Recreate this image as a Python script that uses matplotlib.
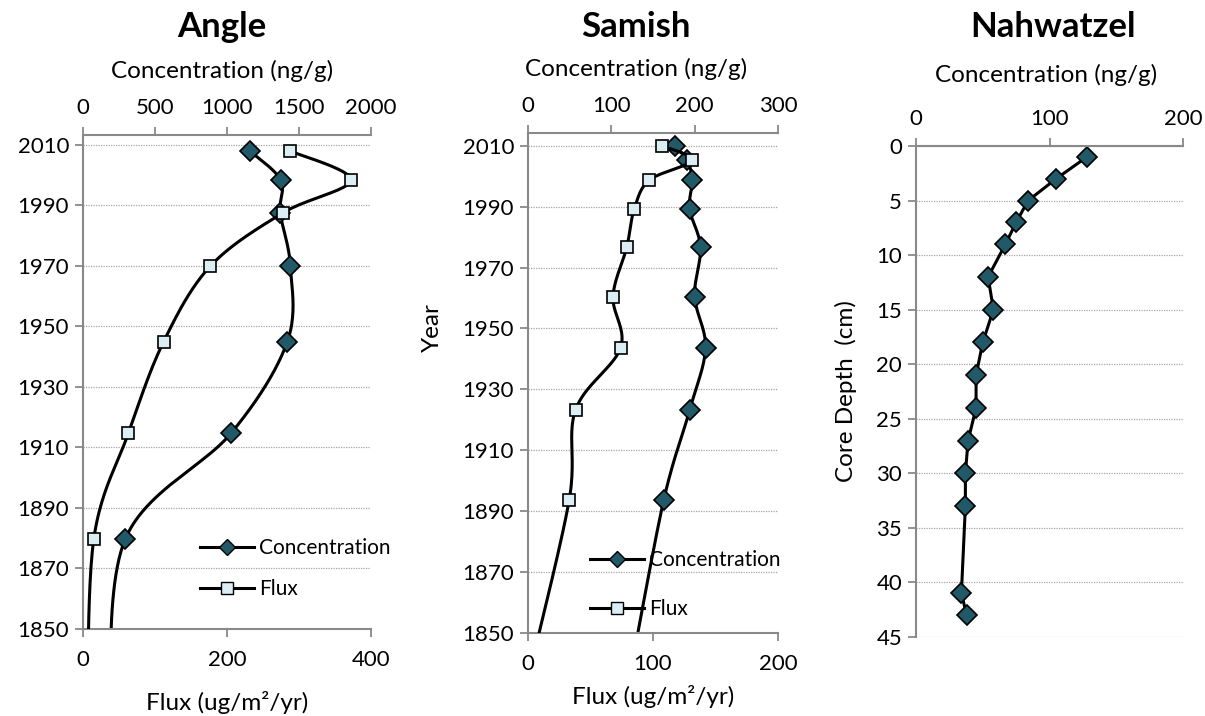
import numpy as np
import matplotlib
matplotlib.use("Agg")
import matplotlib.pyplot as plt
from matplotlib.lines import Line2D

plt.rcParams['font.family'] = ['Lato', 'DejaVu Sans']

# Angle core (year, concentration ng/g, flux ug/m2/yr) - last point lies below the axis
angle_year = [2008, 1998.4, 1987.6, 1970, 1945, 1914.7, 1879.8, 1820]
angle_conc = [1160, 1373, 1370, 1440, 1419, 1028, 294, 185]
angle_flux = [288, 372, 278, 177, 112, 63, 15, 6]

# Samish core - last point lies below the axis
samish_year = [2010, 2005.2, 1998.7, 1989.2, 1976.7, 1960.5, 1943.6, 1923.2, 1893.8, 1840]
samish_conc = [176, 191, 197, 194, 207, 200, 213, 194, 163, 125]
samish_flux = [107, 131, 97, 85, 79, 68, 74, 38, 33, 3]

# Nahwatzel core (depth cm, concentration ng/g)
nahw_depth = [1, 3, 5, 7, 9, 12, 15, 18, 21, 24, 27, 30, 33, 41, 43]
nahw_conc = [128, 105, 84, 75, 67, 54, 58, 50, 45, 45, 39, 37, 37, 34, 38]

year_ticks = list(range(1850, 2011, 20))

CONC_FC = '#215968'
FLUX_FC = '#DBEEF4'
GREY = '#898989'
W, H = 1205, 716
TICK_FS = 16


def smooth(xs, ys, sx, sy, n=25):
    # Excel-like smoothed line: Bezier through points, computed in pixel space
    P = np.column_stack([np.asarray(xs, float) * sx, np.asarray(ys, float) * sy])
    out = [P[0]]
    t = np.linspace(0, 1, n)[1:, None]
    for i in range(len(P) - 1):
        p0 = P[i - 1] if i > 0 else P[i]
        p1, p2 = P[i], P[i + 1]
        p3 = P[i + 2] if i + 2 < len(P) else P[i + 1]
        c1 = p1 + (p2 - p0) / 6
        c2 = p2 - (p3 - p1) / 6
        seg = (1 - t) ** 3 * p1 + 3 * (1 - t) ** 2 * t * c1 + 3 * (1 - t) * t ** 2 * c2 + t ** 3 * p2
        out.extend(seg)
    out = np.array(out)
    return out[:, 0] / sx, out[:, 1] / sy


def px_axes(left, right, top, bottom):
    return fig.add_axes([left / W, 1 - bottom / H, (right - left) / W, (bottom - top) / H])


def style_main(ax):
    for s in ['right', 'bottom']:
        ax.spines[s].set_visible(False)
    for s in ['left', 'top']:
        ax.spines[s].set_color(GREY)
        ax.spines[s].set_linewidth(1.5)
    ax.xaxis.set_ticks_position('top')
    ax.xaxis.set_label_position('top')
    ax.tick_params(axis='both', direction='out', length=6, width=1.3, color=GREY,
                   labelsize=TICK_FS, pad=4)
    ax.tick_params(axis='x', pad=6)
    ax.yaxis.grid(True, linestyle=(0, (1, 1)), color='#a6a6a6', linewidth=0.9)
    ax.set_axisbelow(True)


def core_panel(left, right, top, bottom, years, conc, flux, cmax, cticks, fmax, fticks, ytop):
    ax = px_axes(left, right, top, bottom)
    tw = ax.twiny()
    ax.set_xlim(0, cmax)
    tw.set_xlim(0, fmax)
    ax.set_ylim(1850, ytop)
    ax.set_yticks(year_ticks)
    ax.set_xticks(cticks)
    tw.set_xticks(fticks)
    style_main(ax)
    for s in ['left', 'right', 'top']:
        tw.spines[s].set_visible(False)
    tw.spines['bottom'].set_visible(True)
    tw.spines['bottom'].set_color(GREY)
    tw.spines['bottom'].set_linewidth(1.5)
    tw.xaxis.set_ticks_position('bottom')
    tw.xaxis.set_label_position('bottom')
    tw.tick_params(axis='x', direction='out', length=6, width=1.3, color=GREY,
                   labelsize=TICK_FS, pad=9)
    wpx, hpx = right - left, bottom - top
    sy = hpx / (ytop - 1850)
    cx, cy = smooth(conc, years, wpx / cmax, sy)
    fx, fy = smooth(flux, years, wpx / fmax, sy)
    ax.plot(cx, cy, color='black', lw=2.2, zorder=3)
    ax.plot(conc, years, linestyle='none', marker='D', ms=10, mfc=CONC_FC,
            mec='black', mew=1.2, zorder=4)
    tw.plot(fx, fy, color='black', lw=2.2, zorder=3)
    tw.plot(flux, years, linestyle='none', marker='s', ms=8.5, mfc=FLUX_FC,
            mec='black', mew=1.2, zorder=4)
    tw.set_ylim(1850, ytop)
    return ax, tw


fig = plt.figure(figsize=(W / 100, H / 100), dpi=100)

# Angle
ax1, tw1 = core_panel(83, 371, 135, 629, angle_year, angle_conc, angle_flux,
                      2000, [0, 500, 1000, 1500, 2000], 400, [0, 200, 400], 2013.3)
# Samish
ax2, tw2 = core_panel(528, 778, 133, 633, samish_year, samish_conc, samish_flux,
                      300, [0, 100, 200, 300], 200, [0, 100, 200], 2014.2)


def legend_handles():
    h1 = Line2D([], [], color='black', lw=2.2, marker='D', ms=8, mfc=CONC_FC, mec='black', mew=1.0)
    h2 = Line2D([], [], color='black', lw=2.2, marker='s', ms=8.5, mfc=FLUX_FC, mec='black', mew=1.0)
    return [h1, h2]


for tw, x0, y0, sp in [(tw1, 200, 538, 1.0), (tw2, 590, 550, 1.4)]:
    leg = tw.legend(legend_handles(), ['Concentration', 'Flux'], loc='upper left',
                    bbox_to_anchor=(x0 / W, 1 - y0 / H), bbox_transform=fig.transFigure,
                    frameon=False, fontsize=15, handlelength=2.6, handletextpad=0.25,
                    labelspacing=sp, borderpad=0, borderaxespad=0, numpoints=1)
    leg.set_zorder(10)

# Nahwatzel
ax3 = px_axes(916, 1183, 146, 637)
ax3.set_xlim(0, 200)
ax3.set_ylim(45, 0)
ax3.set_xticks([0, 100, 200])
ax3.set_yticks(range(0, 46, 5))
style_main(ax3)
ax3.plot(nahw_conc, nahw_depth, color='black', lw=2.2, marker='D', ms=10, mfc=CONC_FC,
         mec='black', mew=1.2, clip_on=False)

# titles and axis labels
for x, name in [(222, 'Angle'), (636, 'Samish'), (1053, 'Nahwatzel')]:
    fig.text(x / W, 1 - 27 / H, name, ha='center', va='center', fontsize=25, fontweight='bold')
for x, y in [(222, 71), (636, 69), (1046, 75)]:
    fig.text(x / W, 1 - y / H, 'Concentration (ng/g)', ha='center', va='center', fontsize=17.5)
fig.text(227 / W, 1 - 703 / H, 'Flux (ug/m²/yr)', ha='center', va='center', fontsize=17.5)
fig.text(653 / W, 1 - 697 / H, 'Flux (ug/m²/yr)', ha='center', va='center', fontsize=17.5)
fig.text(432 / W, 1 - 328 / H, 'Year', ha='center', va='center', rotation=90, fontsize=17.5)
fig.text(846 / W, 1 - 391 / H, 'Core Depth  (cm)', ha='center', va='center', rotation=90, fontsize=17.5)

fig.savefig('out.png', dpi=100)
